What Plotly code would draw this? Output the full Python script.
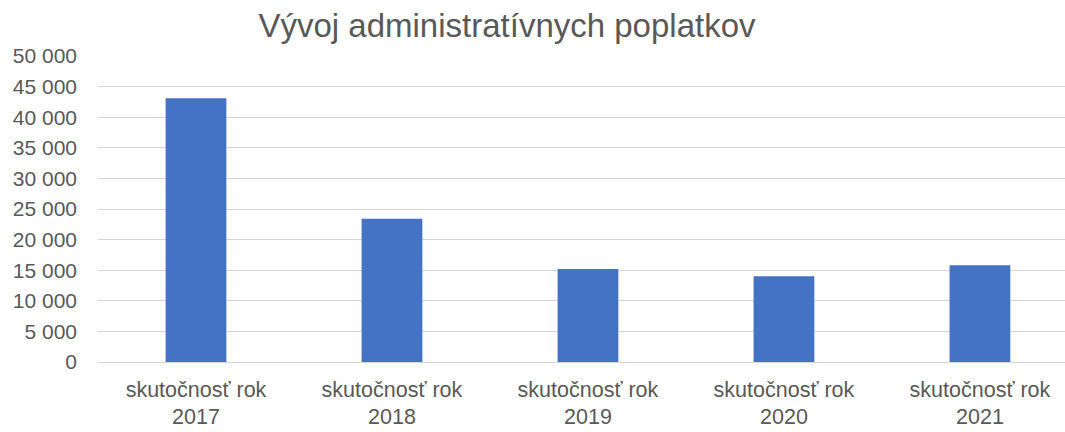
import plotly.graph_objects as go

categories = ["skutočnosť rok<br>2017", "skutočnosť rok<br>2018", "skutočnosť rok<br>2019",
              "skutočnosť rok<br>2020", "skutočnosť rok<br>2021"]
values = [43100, 23400, 15200, 14000, 15800]
title_text = "Vývoj administratívnych poplatkov"
y_ticks = [0, 5000, 10000, 15000, 20000, 25000, 30000, 35000, 40000, 45000, 50000]

W, H = 1065, 432
FONT = "Liberation Sans"
TXT = "#595959"

fig = go.Figure(go.Bar(x=categories, y=values, marker_color="#4472C4",
                       marker_line_width=0, width=0.31))

fig.update_layout(
    width=W, height=H,
    margin=dict(l=98, r=0, t=56, b=70),
    paper_bgcolor="white", plot_bgcolor="white",
    separators=". ",
    showlegend=False,
    font=dict(family=FONT, color=TXT, size=21),
    title=dict(text=title_text, xref="container", x=507 / W, xanchor="center",
               yref="container", y=1 - 25 / H, yanchor="middle",
               font=dict(family=FONT, size=33, color=TXT)),
    xaxis=dict(type="category", range=[-0.5, 4.434], showgrid=False, showline=False,
               ticks="", automargin=False, ticklabelstandoff=12,
               tickfont=dict(size=21.5, color=TXT)),
    yaxis=dict(range=[0, 50000], tickvals=y_ticks, tickformat=",d", showgrid=True,
               gridcolor="#D6D6D6", gridwidth=1.3, zeroline=True, zerolinecolor="#D6D6D6",
               zerolinewidth=1.3, showline=False, ticks="", ticklabelstandoff=20,
               automargin=False, tickfont=dict(size=21, color=TXT)),
)

fig.write_html("out.html", config={"displayModeBar": False},
               post_script="document.body.style.margin='0';document.body.style.overflow='hidden';")
